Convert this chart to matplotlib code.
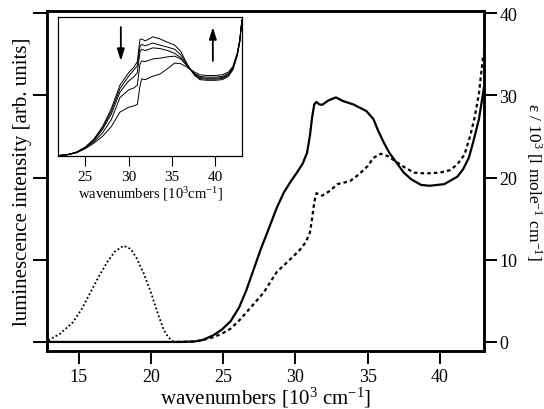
import matplotlib
matplotlib.use("Agg")
import matplotlib.pyplot as plt

plt.rcParams['font.family'] = ['Liberation Serif', 'DejaVu Serif']
plt.rcParams['mathtext.fontset'] = 'custom'
plt.rcParams['mathtext.rm'] = 'Liberation Serif'
plt.rcParams['mathtext.it'] = 'Liberation Serif:italic'

# absorption, solid curve
abs1_x = [12.8, 22.0, 23.0, 23.6, 24.3, 24.9, 25.5, 26.1, 26.6, 27.1, 27.6, 28.2, 28.7,
          29.2, 29.7, 30.1, 30.5, 30.8, 31.0, 31.15, 31.3, 31.45, 31.65, 31.85, 32.3,
          32.8, 33.3, 34.0, 34.9, 35.4, 35.7, 36.1, 36.5, 37.0, 37.5, 38.0, 38.7,
          39.3, 39.8, 40.3, 40.7, 41.2, 41.6, 42.0, 42.3, 42.7, 43.05]
abs1_y = [0, 0, 0.05, 0.25, 0.8, 1.5, 2.5, 4.2, 6.3, 8.8, 11.3, 14.0, 16.3,
          18.2, 19.6, 20.6, 21.7, 23.0, 25.1, 27.3, 28.9, 29.2, 28.9, 28.85, 29.4,
          29.75, 29.3, 28.9, 28.1, 27.1, 25.8, 24.3, 23.0, 21.8, 20.6, 19.8, 19.1,
          19.0, 19.1, 19.2, 19.6, 20.1, 21.0, 22.4, 24.3, 27.1, 31.0]

# absorption, dashed curve
abs2_x = [21.8, 22.8, 23.4, 24.3, 24.9, 25.5, 26.1, 26.6, 27.2, 27.8, 28.3, 28.7, 29.3,
          29.9, 30.3, 30.7, 31.0, 31.15, 31.3, 31.45, 31.85, 32.4, 32.9, 33.4, 33.8,
          34.4, 35.0, 35.4, 35.9, 36.4, 36.9, 37.5, 38.2, 39.0, 40.0, 40.7, 41.2,
          41.7, 42.1, 42.4, 42.7, 43.0]
abs2_y = [0, 0.05, 0.15, 0.57, 1.0, 1.6, 2.6, 3.6, 4.8, 6.0, 7.4, 8.5, 9.5,
          10.5, 11.2, 12.1, 13.3, 15.0, 17.0, 18.1, 17.8, 18.4, 19.2, 19.4, 19.6,
          20.4, 21.4, 22.4, 22.9, 22.6, 22.0, 21.3, 20.6, 20.5, 20.6, 20.9, 21.6,
          22.8, 25.1, 27.3, 30.2, 35.0]

# luminescence, dotted curve
lum_x = [12.9, 13.7, 14.6, 15.2, 15.8, 16.4, 17.0, 17.5, 18.1, 18.6, 19.0, 19.5,
         20.0, 20.5, 20.9, 21.2, 21.5, 21.8]
lum_y = [0.2, 1.0, 2.4, 4.0, 6.0, 8.0, 9.8, 11.0, 11.7, 11.3, 10.2, 8.3,
         6.0, 3.3, 1.4, 0.55, 0.1, 0]

# inset spectra
ins_x = [21.9, 23.0, 24.0, 25.0, 26.0, 27.0, 28.0, 29.0, 30.0, 30.6, 31.0, 31.3, 31.5,
         31.9, 32.8, 33.6, 34.5, 35.3, 36.0, 36.6, 37.1, 37.6, 38.2, 39.0, 40.0,
         40.8, 41.5, 42.0, 42.5, 42.8, 43.05]
ins_a = [0, 0.8, 2.5, 6, 12, 21, 34, 51, 60, 64, 68, 84, 84.5,
         83, 86, 84.5, 82, 80, 75.5, 68, 62.5, 58, 55, 54.5, 54.5,
         55, 57.5, 62, 72, 82, 98]
ins_b = [0, 0.8, 2.5, 6, 11.5, 20, 32, 48.5, 57.5, 62, 65, 79, 80.5,
         79.5, 81.5, 80, 78.5, 77, 73, 67, 62.5, 58.5, 55.8, 55.3, 55.3,
         55.8, 58, 62.5, 72.5, 82.5, 98]
ins_e = [0, 0.8, 2.5, 6, 11, 19, 30, 46, 54, 57, 60, 75, 77,
         76, 78, 77.5, 76, 74, 71, 66, 62.5, 59, 56.5, 56, 56,
         56.5, 58.7, 63, 73, 83, 98]
ins_c = [0, 0.7, 2.3, 5.5, 10, 16.5, 26, 42, 47.5, 49, 51, 66, 68.5,
         68, 70, 70.5, 71.5, 72, 70, 66, 62.5, 59.5, 57.3, 56.8, 56.8,
         57.3, 59.5, 63.5, 73.5, 83.5, 98]
ins_d = [0, 0.6, 2.0, 5, 9, 14, 21, 31.5, 35, 36, 37, 50, 55.5,
         55, 57.5, 59, 63, 67, 66.5, 64.5, 62.5, 60.5, 58.5, 58, 58,
         58.5, 60.5, 64.5, 74, 84, 98]
inset_curves = [ins_a, ins_b, ins_e, ins_c, ins_d]

xticks = [15, 20, 25, 30, 35, 40]
yticks = [0, 10, 20, 30, 40]
inset_xticks = [25, 30, 35, 40]

fig = plt.figure(figsize=(5.44, 4.10), dpi=100)
ax = fig.add_axes([0.0864, 0.1415, 0.8033, 0.829])
ax2 = ax.twinx()

ax.plot(lum_x, lum_y, color='black', lw=1.3, linestyle=(0, (1, 1.3)))
ax2.plot(abs1_x, abs1_y, color='black', lw=1.6)
ax2.plot(abs2_x, abs2_y, color='black', lw=1.6, linestyle=(0, (1.6, 1.4)))

for a in (ax, ax2):
    a.set_xlim(12.8, 43.05)
    a.set_ylim(-1.1, 40.25)
    for s in a.spines.values():
        s.set_linewidth(1.8)

ax.set_xticks(xticks)
ax.set_yticks(yticks)
ax.tick_params(axis='x', direction='out', length=9, width=1.4, labelsize=13, pad=3)
ax.tick_params(axis='y', direction='out', length=10, width=1.4, labelleft=False)
ax2.set_yticks(yticks)
ax2.tick_params(axis='y', direction='out', length=9, width=1.4, labelsize=13, pad=2)

ax.set_xlabel('wavenumbers [10$^{3}$ cm$^{-1}$]', fontsize=15, labelpad=0)
ax.set_ylabel('luminescence intensity [arb. units]', fontsize=15, labelpad=1)
ax2.set_ylabel('ε / 10$^{3}$ [l mole$^{-1}$ cm$^{-1}$]', fontsize=12.5,
               rotation=270, va='bottom', labelpad=5)

# inset
axi = fig.add_axes([0.1072, 0.617, 0.338, 0.338])
for yy in inset_curves:
    axi.plot(ins_x, yy, color='black', lw=0.7)
axi.set_xlim(21.9, 43.08)
axi.set_ylim(-0.3, 100)
axi.set_xticks(inset_xticks)
axi.set_yticks([])
axi.tick_params(axis='x', direction='out', length=7, width=0.8, labelsize=11, pad=3)
for s in axi.spines.values():
    s.set_linewidth(0.9)
axi.set_xlabel('wavenumbers [10$^{3}$cm$^{-1}$]', fontsize=10.5, labelpad=1)

axi.annotate('', xy=(29.1, 68.5), xytext=(29.1, 93),
             arrowprops=dict(arrowstyle='-|>,head_width=0.22,head_length=0.7',
                             color='black', lw=1.3, shrinkA=0, shrinkB=0))
axi.annotate('', xy=(39.7, 93), xytext=(39.7, 68.5),
             arrowprops=dict(arrowstyle='-|>,head_width=0.22,head_length=0.7',
                             color='black', lw=1.3, shrinkA=0, shrinkB=0))

fig.savefig('out.png', dpi=100)
